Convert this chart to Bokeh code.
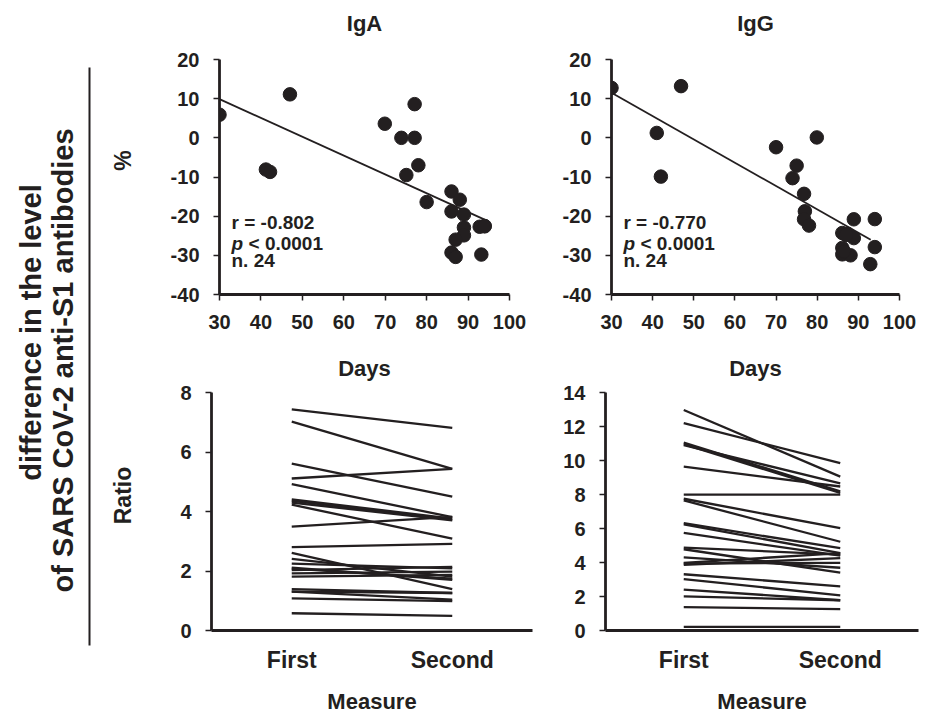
import math
from bokeh.plotting import figure
from bokeh.layouts import row, column
from bokeh.models import (Range1d, FactorRange, FixedTicker, Label, ColumnDataSource,
                          LinearAxis)
from bokeh.embed import file_html
from bokeh.resources import INLINE

FONT = "Liberation Sans"
INK = "#231f20"

# ---------------- data ----------------
days_ticks = [30, 40, 50, 60, 70, 80, 90, 100]
pct_ticks = [-40, -30, -20, -10, 0, 10, 20]

iga_days = [30.0, 47.0, 41.2, 42.2, 69.9, 73.9, 77.1, 77.1, 78.0, 75.1, 80.0,
            86.0, 88.0, 86.0, 89.0, 89.0, 89.0, 92.8, 87.0, 86.0, 87.0, 93.2, 94.0, 94.0]
iga_diff = [5.9, 11.1, -8.1, -8.7, 3.6, 0.0, 0.0, 8.6, -7.0, -9.5, -16.4,
            -13.7, -15.8, -18.8, -19.6, -22.9, -24.9, -22.7, -26.0, -29.3, -30.4, -29.8, -22.5, -22.6]
iga_fit_days = [30, 94]
iga_fit_diff = [9.9, -20.9]

igg_days = [30.0, 46.9, 41.0, 42.0, 70.0, 79.9, 75.0, 74.0, 76.8, 77.0, 76.8, 78.0,
            88.9, 94.0, 86.1, 87.4, 88.9, 86.1, 86.1, 88.1, 94.0, 92.9, 87.0, 86.5]
igg_diff = [12.75, 13.2, 1.25, -9.9, -2.4, 0.1, -7.1, -10.3, -14.3, -18.75, -20.8, -22.4,
            -20.8, -20.75, -24.3, -24.5, -25.6, -28.1, -29.75, -30.0, -27.9, -32.25, -24.8, -29.0]
igg_fit_days = [30, 93]
igg_fit_diff = [11.5, -26.0]

measures = ["First", "Second"]

iga_first = [7.43, 7.02, 5.61, 5.11, 4.92, 4.41, 4.36, 4.30, 4.23, 3.49, 2.80, 2.61,
             2.41, 2.25, 2.11, 2.03, 1.92, 1.81, 1.39, 1.31, 1.08, 0.58, 2.08, 1.31]
iga_second = [6.81, 5.43, 4.50, 5.43, 3.81, 3.76, 3.73, 3.70, 3.09, 3.82, 2.91, 1.39,
              1.81, 2.09, 1.70, 2.14, 1.98, 1.87, 1.26, 1.04, 0.99, 0.49, 1.74, 1.26]

igg_first = [12.97, 12.2, 11.05, 10.96, 10.9, 9.64, 7.99, 7.75, 7.65, 6.31, 6.24, 5.74,
             4.88, 4.78, 4.30, 3.98, 3.86, 3.94, 3.31, 3.02, 2.41, 2.01, 1.38, 0.21]
igg_second = [9.05, 9.85, 8.19, 8.09, 8.66, 8.47, 7.99, 6.02, 5.22, 4.84, 4.55, 4.40,
              4.46, 3.40, 3.69, 4.55, 4.26, 3.98, 2.60, 2.07, 1.78, 1.78, 1.26, 0.21]

iga_ratio_ticks = [0, 2, 4, 6, 8]
igg_ratio_ticks = [0, 2, 4, 6, 8, 10, 12, 14]

stats_iga = ["r = -0.802", "< 0.0001", "n. 24"]
stats_igg = ["r = -0.770", "< 0.0001", "n. 24"]


def style_axis(ax):
    ax.axis_line_color = INK
    ax.axis_line_width = 2.8
    ax.major_tick_line_color = INK
    ax.major_tick_line_width = 1.5
    ax.major_tick_in = 0
    ax.major_tick_out = 6
    ax.minor_tick_line_color = None
    ax.major_label_text_font = FONT
    ax.major_label_text_font_style = "bold"
    ax.major_label_text_font_size = "20px"
    ax.major_label_text_color = INK
    ax.axis_label_text_font = FONT
    ax.axis_label_text_font_style = "bold"
    ax.axis_label_text_font_size = "22px"
    ax.axis_label_text_color = INK


def base_fig(width, height, x_range, y_range, mbl, mbr, mbt, mbb):
    p = figure(width=width, height=height, x_range=x_range, y_range=y_range,
               toolbar_location=None, output_backend="svg",
               min_border_left=mbl, min_border_right=mbr,
               min_border_top=mbt, min_border_bottom=mbb)
    p.outline_line_color = None
    p.grid.visible = False
    for ax in p.axis:
        style_axis(ax)
    return p


def scatter_panel(days, diff, fit_d, fit_v, stats, title, mbl, mbr):
    p = base_fig(mbl + 290 + mbr, 383, Range1d(30, 100), Range1d(-40, 20),
                 mbl, mbr, 59, 85)
    p.xaxis.ticker = FixedTicker(ticks=days_ticks)
    p.yaxis.ticker = FixedTicker(ticks=pct_ticks)
    p.yaxis.major_label_overrides = {t: str(t) for t in pct_ticks}
    p.xaxis.major_label_standoff = 14
    p.yaxis.major_label_standoff = 14
    p.xaxis.axis_label = "Days"
    p.xaxis.axis_label_standoff = 24
    # panel heading (IgA / IgG) as the label of a bare top axis
    top = LinearAxis(ticker=FixedTicker(ticks=[]), axis_label=title)
    style_axis(top)
    top.axis_line_color = None
    top.major_tick_line_color = None
    top.major_tick_out = 0
    top.major_label_standoff = 0
    top.axis_label_standoff = 24
    p.add_layout(top, "above")
    p.line(fit_d, fit_v, line_color=INK, line_width=1.8)
    p.scatter(days, diff, size=13.5, fill_color=INK, line_color=INK)
    common = dict(text_font=FONT, text_font_style="bold", text_font_size="19px",
                  text_color=INK, text_baseline="middle")
    x0 = 32.9
    p.add_layout(Label(x=x0, y=-21.7, text=stats[0], **common))
    lp = dict(common)
    lp["text_font_style"] = "bold italic"
    p.add_layout(Label(x=x0, y=-26.9, text="p", **lp))
    p.add_layout(Label(x=x0, y=-26.9, x_offset=17, text=stats[1], **common))
    p.add_layout(Label(x=x0, y=-31.3, text=stats[2], **common))
    return p


def ratio_panel(first, second, ticks, ymax, width, mbl, mbr, mbb):
    p = base_fig(width, 333, FactorRange(factors=measures, range_padding=0),
                 Range1d(0, ymax), mbl, mbr, 9, mbb)
    p.yaxis.ticker = FixedTicker(ticks=ticks)
    p.yaxis.major_label_standoff = 14
    p.xaxis.major_tick_line_color = None
    p.xaxis.major_tick_out = 0
    p.xaxis.major_label_standoff = 16
    p.xaxis.axis_label = "Measure"
    p.xaxis.axis_label_standoff = 13
    p.xaxis.major_label_text_font_size = "23px"
    src = ColumnDataSource(dict(xs=[measures] * len(first),
                                ys=[[a, b] for a, b in zip(first, second)]))
    p.multi_line("xs", "ys", source=src, line_color=INK, line_width=2.3)
    return p


LW = 140
p1 = scatter_panel(iga_days, iga_diff, iga_fit_days, iga_fit_diff, stats_iga, "IgA", 219 - LW, 50)
p2 = scatter_panel(igg_days, igg_diff, igg_fit_days, igg_fit_diff, stats_igg, "IgG", 50, 22)
p3 = ratio_panel(iga_first, iga_second, iga_ratio_ticks, 8, 420, 211 - LW, 28, 81)
p4 = ratio_panel(igg_first, igg_second, igg_ratio_ticks, 14, 361, 43, 3, 80)

# left panel: shared label, rule and the two y-axis titles
left = figure(width=LW, height=716, x_range=Range1d(0, LW), y_range=Range1d(716, 0),
              x_axis_type=None, y_axis_type=None, toolbar_location=None,
              output_backend="svg", min_border=0)
left.outline_line_color = None
left.grid.visible = False
left.segment(x0=[89], y0=[67], x1=[89], y1=[645], line_color=INK, line_width=2)
lab = dict(text_font=FONT, text_font_style="bold", text_font_size="29px",
           text_color=INK, text_align="center", text_baseline="middle", angle=math.pi / 2)
left.add_layout(Label(x=30, y=332, text="difference in the level", **lab))
left.add_layout(Label(x=62, y=360, text="of SARS CoV-2 anti-S1 antibodies", **lab))
ylab = dict(lab)
ylab["text_font_size"] = "23px"
left.add_layout(Label(x=122, y=160, text="%", **ylab))
left.add_layout(Label(x=122, y=495, text="Ratio", **ylab))

layout = row(left, column(row(p1, p2, spacing=0), row(p3, p4, spacing=0), spacing=0), spacing=0)

open("out.html", "w").write(file_html(layout, INLINE))
